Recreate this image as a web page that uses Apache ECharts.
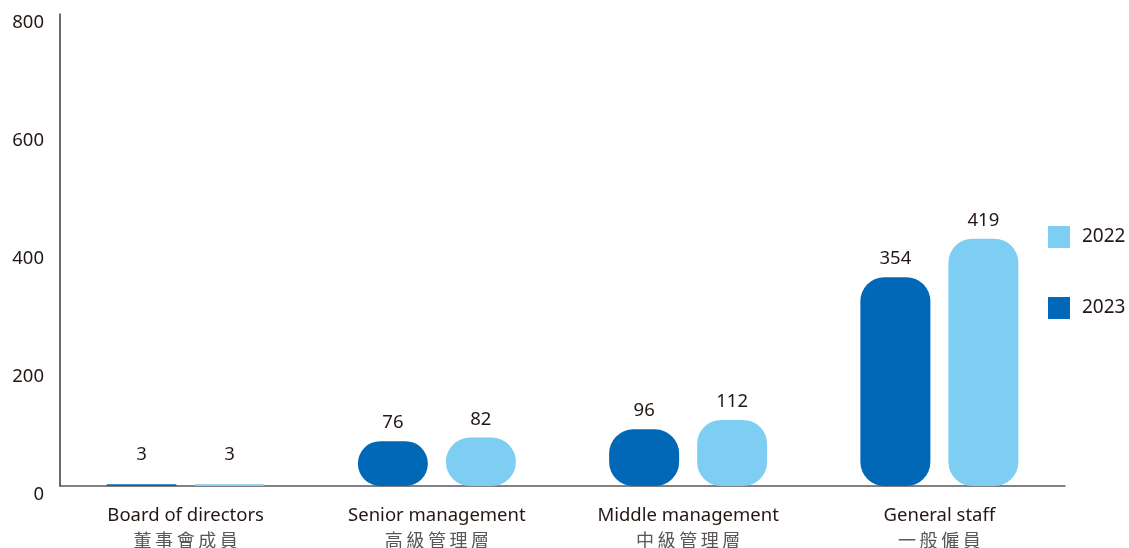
<!DOCTYPE html>
<html>
<head>
<meta charset="utf-8">
<style>
  html, body { margin: 0; padding: 0; background: #fff; }
  #chart { width: 1129px; height: 548px; }
</style>
<script src="https://cdn.jsdelivr.net/npm/echarts@6/dist/echarts.min.js"></script>
</head>
<body>
<div id="chart"></div>
<script>
// Employees by level
const categoriesEn = ['Board of directors', 'Senior management', 'Middle management', 'General staff'];
const categoriesZh = ['董事會成員', '高級管理層', '中級管理層', '一般僱員'];
const values2023 = [3, 76, 96, 354];
const values2022 = [3, 82, 112, 419];
const yTicks = [0, 200, 400, 600, 800];

const FONT = '"Noto Sans", "Noto Sans CJK TC", sans-serif';
const TEXT = '#231815';
const DARK = '#0068b7';
const LIGHT = '#7ecef4';
const FS = 18.5;

// thin bars get their label lifted a little higher
function withLabels(vals) {
  return vals.map(v => v < 10
    ? { value: v, label: { distance: 20 } }
    : { value: v });
}

// Chinese captions are set with loose tracking
function spaced(s) {
  return Array.from(s).join('\u2009');
}

const chart = echarts.init(document.getElementById('chart'));
chart.setOption({
  animation: false,
  textStyle: { fontFamily: FONT },
  grid: { left: 60, right: 64, top: 14, bottom: 62, containLabel: false, outerBoundsMode: 'none' },
  legend: {
    data: ['2022', '2023'],
    orient: 'vertical',
    left: 1048,
    top: 226,
    padding: 0,
    itemWidth: 22,
    itemHeight: 22,
    itemGap: 49,
    icon: 'rect',
    textStyle: { fontFamily: FONT, fontSize: 19, color: TEXT, padding: [0, 0, 0, 7] }
  },
  xAxis: {
    type: 'category',
    data: categoriesEn.map((en, i) => en + '\n' + categoriesZh[i]),
    axisLine: { lineStyle: { color: '#595757', width: 1.5 } },
    axisTick: { show: false },
    axisLabel: {
      margin: 17,
      interval: 0,
      fontFamily: FONT,
      fontSize: FS,
      lineHeight: 25,
      color: TEXT,
      formatter: function (v) {
        const parts = v.split('\n');
        return '{en|' + parts[0] + '}\n{zh|' + spaced(parts[1]) + '}';
      },
      rich: {
        en: { fontFamily: FONT, fontSize: FS, color: TEXT, lineHeight: 25 },
        zh: { fontFamily: '"Noto Sans CJK TC", sans-serif', fontSize: 18, color: '#5a5656', lineHeight: 25 }
      }
    }
  },
  yAxis: {
    type: 'value',
    min: yTicks[0],
    max: yTicks[yTicks.length - 1],
    interval: yTicks[1] - yTicks[0],
    axisLine: { show: true, lineStyle: { color: '#3e3a39', width: 1.5 } },
    axisTick: { show: false },
    splitLine: { show: false },
    axisLabel: {
      margin: 16,
      fontFamily: FONT,
      fontSize: FS,
      color: TEXT,
      verticalAlign: 'top',
      padding: [-1, 0, 0, 0]
    }
  },
  series: [
    {
      name: '2023',
      type: 'bar',
      data: withLabels(values2023),
      barWidth: 70,
      barGap: '25.7%',
      itemStyle: { color: DARK, borderRadius: 24 },
      label: {
        show: true, position: 'top', distance: 9,
        fontFamily: FONT, fontSize: FS, color: TEXT
      }
    },
    {
      name: '2022',
      type: 'bar',
      data: withLabels(values2022),
      barWidth: 70,
      barGap: '25.7%',
      itemStyle: { color: LIGHT, borderRadius: 24 },
      label: {
        show: true, position: 'top', distance: 9,
        fontFamily: FONT, fontSize: FS, color: TEXT
      }
    }
  ]
});
</script>
</body>
</html>
